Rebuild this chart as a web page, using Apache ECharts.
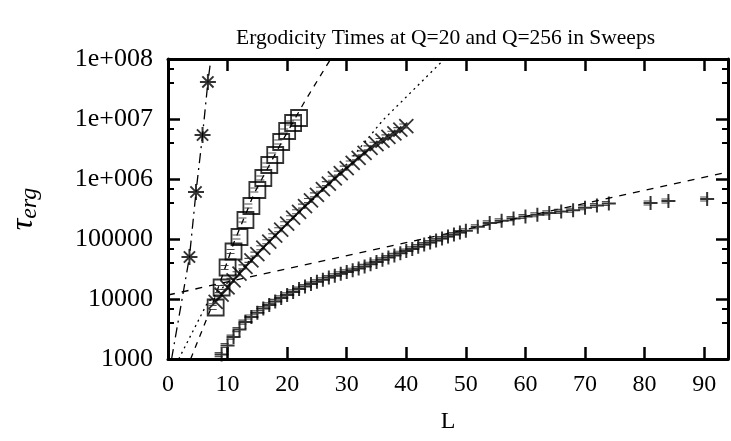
<!DOCTYPE html>
<html><head><meta charset="utf-8">
<script src="https://cdn.jsdelivr.net/npm/echarts@6/dist/echarts.min.js"></script>
<style>html,body{margin:0;padding:0;background:#fff}#c{width:731px;height:441px}</style>
</head><body><div id="c"></div>
<script>
// ---- data ----
const titleText = 'Ergodicity Times at Q=20 and Q=256 in Sweeps';
const xTickLabels = ['0','10','20','30','40','50','60','70','80','90'];
const yTickLabels = ['1000','10000','100000','1e+006','1e+007','1e+008'];

const starL = [3.6, 4.7, 5.8, 6.7];
const starTau = [50100, 607000, 5410000, 41400000];

const squareL = [8,9,10,11,12,13,14,15,16,17,18,19,20,21,22];
const squareTau = [7215, 15540, 33500, 61900, 108000, 207300, 354800, 655600, 1040000, 1710000, 2510000, 4140000, 6310000, 8580000, 10400000];

const crossL = [8,9,10,11,12,13,14,15,16,17,18,19,20,21,22,23,24,25,26,27,28,29,30,31,32,33,34,35,36,37,38,39,40];
const crossTau = [8980, 11840, 15610, 20420, 26400, 34280, 43980, 55980, 71610, 90160, 113500, 142900, 179900, 226500, 284000, 353300, 438500, 543300, 676100, 837500, 1028000, 1250000, 1520000, 1850000, 2250000, 2730000, 3310000, 3800000, 4380000, 5030000, 5780000, 6650000, 7640000];

const plusL = [9,10,11,12,13,14,15,16,17,18,19,20,21,22,23,24,25,26,27,28,29,30,31,32,33,34,35,36,37,38,39,40,41,42,43,44,45,46,47,48,49,50,52,54,56,58,60,62,64,66,68,70,72,74,81,84,90.5];
const plusTau = [1184, 1679, 2317, 3090, 4121, 5012, 5912, 6950, 7980, 9120, 10430, 11700, 13130, 14620, 16100, 17710, 19360, 20980, 22740, 24450, 26300, 28300, 30200, 32200, 34940, 38020, 41380, 44980, 48980, 53300, 57980, 62840, 68400, 74470, 80700, 87100, 94000, 101600, 109600, 118400, 127900, 137500, 159700, 185500, 201000, 218800, 237100, 254100, 272300, 288400, 302000, 331100, 361000, 390800, 398000, 430000, 464000];

// fit curves
const fitStarL = [0.6, 3.6, 4.7, 5.8, 6.7, 7.2];
const fitStarTau = [1000, 50100, 607000, 5410000, 41400000, 100000000];
const fitSquareL = [3.8, 7.3, 11.1, 14.5, 19, 22.8, 27.3];
const fitSquareTau = [1000, 7360, 89100, 585000, 3980000, 18500000, 100000000];
const fitCrossL = [1.8, 6.6, 17.5, 27.5, 36.1, 46.4];
const fitCrossTau = [1000, 8570, 104000, 891000, 9620000, 100000000];
const fitPlusL = [0, 94];
const fitPlusTau = [11660, 1309000];

// ---- chart ----
const FONT = 'Liberation Serif';
const pairs = (xs, ys) => xs.map((x, i) => [x, ys[i]]);
const black = '#000';

const axisLineStyle = {show: true, onZero: false, lineStyle: {color: black, width: 3}};
const majorTick = {show: true, inside: true, length: 12, lineStyle: {color: black, width: 2.5}};

const xBase = {
  type: 'value', min: 0, max: 94, interval: 10,
  axisLine: axisLineStyle, axisTick: majorTick, splitLine: {show: false}
};
const yBase = {
  type: 'log', logBase: 10, min: 1000, max: 100000000,
  axisLine: axisLineStyle, axisTick: majorTick,
  minorTick: {show: true, splitNumber: 3, length: 6, lineStyle: {color: black, width: 2}},
  splitLine: {show: false}, minorSplitLine: {show: false}
};

function scatter(name, xs, ys, symbol, size, width) {
  return {type: 'scatter', name, data: pairs(xs, ys), symbol, symbolSize: size,
          itemStyle: {color: 'none', borderColor: black, borderWidth: width}, z: 3, silent: true};
}
// small error-bar caps drawn at each measured point
function caps(name, xs, ys) {
  return {type: 'scatter', name, data: pairs(xs, ys), symbol: 'path://M0,0L10,0M0,5L10,5',
          symbolSize: [8, 4], symbolOffset: [-3, 0],
          itemStyle: {color: 'none', borderColor: '#222', borderWidth: 1.6}, z: 4, silent: true};
}
function fit(name, xs, ys, dash) {
  return {type: 'line', name, data: pairs(xs, ys), showSymbol: false, symbol: 'none',
          lineStyle: {color: black, width: 1.3, type: dash}, z: 2, silent: true, clip: true};
}

const option = {
  animation: false,
  backgroundColor: '#fff',
  grid: {left: 163, right: 3, top: 59, bottom: 82, containLabel: false},
  graphic: [{
    type: 'text', x: 445.5, y: 38,
    style: {text: titleText, font: '21.5px "Liberation Serif"', fill: black, align: 'center', verticalAlign: 'middle'}
  }],
  xAxis: [
    Object.assign({}, xBase, {
      position: 'bottom',
      axisLabel: {color: black, fontFamily: FONT, fontSize: 24, margin: 14,
        formatter: v => (v % 10 === 0 ? xTickLabels[v / 10] : '')},
      name: 'L', nameLocation: 'middle', nameGap: 51,
      nameTextStyle: {color: black, fontFamily: FONT, fontSize: 24}
    }),
    Object.assign({}, xBase, {position: 'top', axisLabel: {show: false}})
  ],
  yAxis: [
    Object.assign({}, yBase, {
      position: 'left',
      axisLabel: {color: black, fontFamily: FONT, fontSize: 26, margin: 15,
        formatter: v => yTickLabels[Math.round(Math.log10(v)) - 3]},
      name: '{a|τ}{b|erg}', nameLocation: 'middle', nameRotate: 90, nameGap: 126,
      nameTextStyle: {color: black, rich: {
        a: {fontFamily: FONT, fontStyle: 'italic', fontSize: 32, color: black, lineHeight: 36},
        b: {fontFamily: FONT, fontStyle: 'italic', fontSize: 24, color: black, verticalAlign: 'bottom', lineHeight: 30}
      }}
    }),
    Object.assign({}, yBase, {position: 'right', axisLabel: {show: false}})
  ],
  series: [
    fit('fit Q=256 small', fitStarL, fitStarTau, [10, 5, 2, 5]),
    fit('fit squares', fitSquareL, fitSquareTau, [6, 6]),
    fit('fit crosses', fitCrossL, fitCrossTau, [2, 4]),
    fit('fit plus', fitPlusL, fitPlusTau, [7, 7]),
    scatter('stars', starL, starTau, 'path://M0,5L10,5M5,0L5,10M1.5,1.5L8.5,8.5M8.5,1.5L1.5,8.5', 16, 2),
    scatter('squares', squareL, squareTau, 'path://M0,0L10,0L10,10L0,10Z', 16, 1.8),
    scatter('crosses', crossL, crossTau, 'path://M0,0L10,10M10,0L0,10', 14, 1.8),
    scatter('plus', plusL, plusTau, 'path://M0,5L10,5M5,0L5,10', 14, 2),
    caps('sq caps', squareL, squareTau),
    caps('cross caps', crossL, crossTau),
    caps('plus caps', plusL, plusTau)
  ]
};
const chart = echarts.init(document.getElementById('c'), null, {renderer: 'canvas'});
chart.setOption(option);
</script>
</body></html>
